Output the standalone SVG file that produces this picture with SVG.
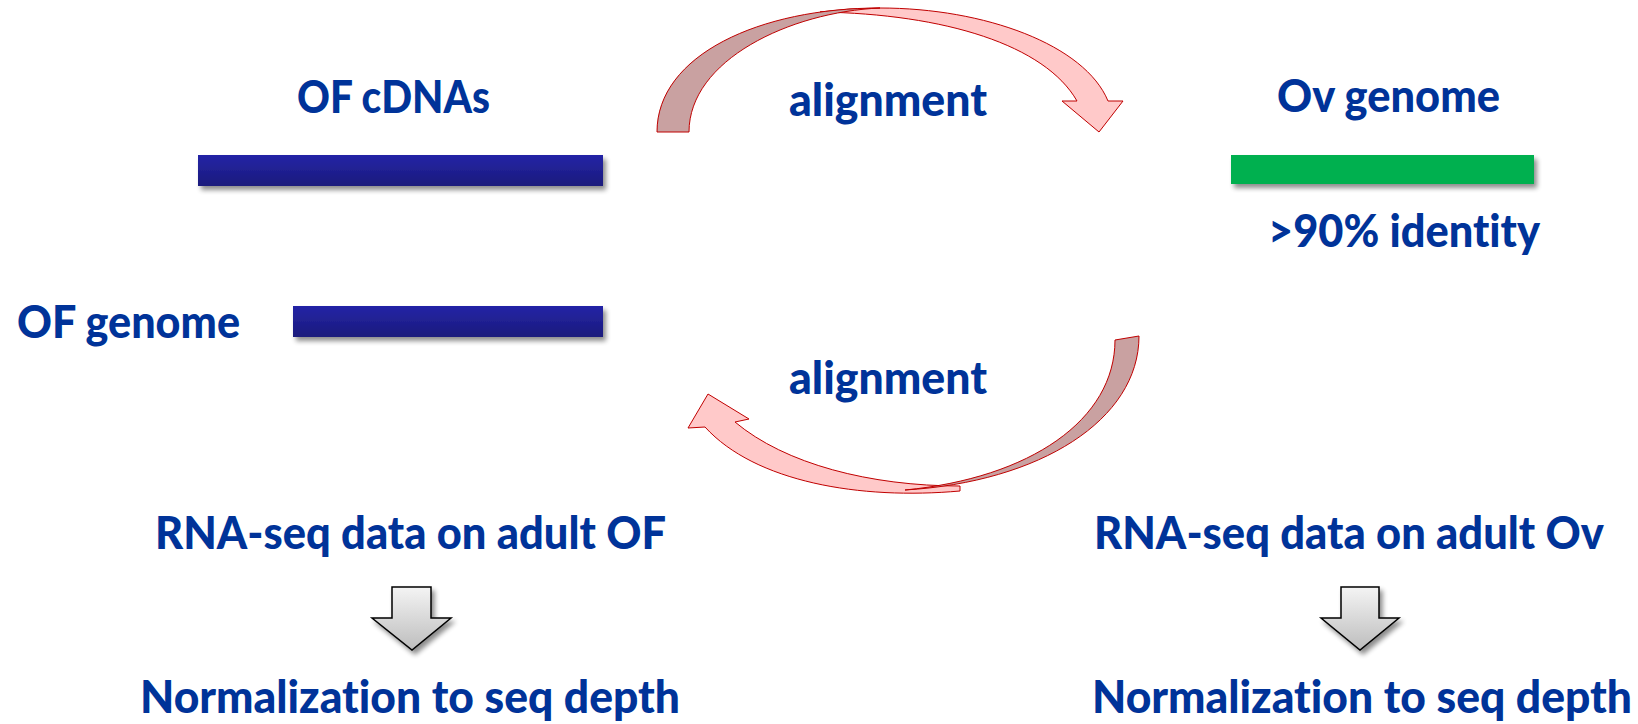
<svg xmlns="http://www.w3.org/2000/svg" width="1638" height="724" viewBox="0 0 1638 724">
<style>
.t{font-family:Lato,"Open Sans","Liberation Sans",sans-serif;font-weight:900;font-size:45px;fill:#003399;font-variant-ligatures:none}
.navy{fill:url(#navyG)}
.green{fill:#00b050}
.dark{fill:#c9a1a1;stroke:#c00000;stroke-width:1}
.light{fill:#ffc9c9;stroke:#c00000;stroke-width:1}
.down{fill:url(#grayG);stroke:#000;stroke-width:1.5;stroke-linejoin:miter}
</style>
<defs>
<linearGradient id="navyG" x1="0" y1="0" x2="0" y2="1">
<stop offset="0" stop-color="#2424a6"/>
<stop offset="1" stop-color="#1b1b7c"/>
</linearGradient>
<linearGradient id="grayG" x1="0" y1="0" x2="0" y2="1">
<stop offset="0" stop-color="#f4f4f4"/>
<stop offset="1" stop-color="#bdbdbd"/>
</linearGradient>
<filter id="sh" x="-10%" y="-50%" width="120%" height="250%">
<feGaussianBlur in="SourceAlpha" stdDeviation="2.5"/>
<feOffset dx="3" dy="4" result="b"/>
<feComponentTransfer><feFuncA type="linear" slope="0.45"/></feComponentTransfer>
<feMerge><feMergeNode/><feMergeNode in="SourceGraphic"/></feMerge>
</filter>
</defs>
<rect width="1638" height="724" fill="#fff"/>

<g id="of-cdnas">
<text class="t" x="297" y="113" textLength="193" lengthAdjust="spacingAndGlyphs">OF cDNAs</text>
<rect class="navy" x="198" y="155" width="405" height="31" filter="url(#sh)"/>
</g>
<g id="of-genome">
<text class="t" x="17" y="338" textLength="223" lengthAdjust="spacingAndGlyphs">OF genome</text>
<rect class="navy" x="293" y="306" width="310" height="31" filter="url(#sh)"/>
</g>
<g id="ov-genome">
<text class="t" x="1277" y="112" textLength="223" lengthAdjust="spacingAndGlyphs">Ov genome</text>
<rect class="green" x="1231" y="155" width="303" height="29" filter="url(#sh)"/>
<text class="t" x="1268" y="247" textLength="272" lengthAdjust="spacingAndGlyphs">&gt;90% identity</text>
</g>
<g id="rna-of">
<text class="t" x="155" y="549" textLength="511" lengthAdjust="spacingAndGlyphs">RNA-seq data on adult OF</text>
</g>
<g id="norm-of">
<text class="t" x="140" y="713" textLength="540" lengthAdjust="spacingAndGlyphs">Normalization to seq depth</text>
</g>
<g id="rna-ov">
<text class="t" x="1094" y="549" textLength="510" lengthAdjust="spacingAndGlyphs">RNA-seq data on adult Ov</text>
</g>
<g id="norm-ov">
<text class="t" x="1092" y="713" textLength="540" lengthAdjust="spacingAndGlyphs">Normalization to seq depth</text>
</g>

<g id="connectors">
<g id="align-top">
<path class="light" d="M820,12 Q850,8 880,8 C985,8 1085,45 1108,101 L1123,101 L1099,132 L1062,101 L1077,101 C1045,45 945,14 820,12 Z"/>
<path class="dark" d="M657,132 C657,55 760,8 880,8 C790,12 689,60 689,132 Z"/>
<text class="t" x="789" y="116" textLength="198" lengthAdjust="spacingAndGlyphs">alignment</text>
</g>
<g id="align-bottom">
<path class="light" d="M960,491 C860,500 755,482 705,427 L688,428 L708,394 L749,419 L735,422 C785,464 870,486 960,486 Z"/>
<path class="dark" d="M905,490 C1040,482 1139,420 1139,336 L1115,340 C1115,420 1030,478 905,490 Z"/>
<text class="t" x="789" y="394" textLength="198" lengthAdjust="spacingAndGlyphs">alignment</text>
</g>
<path id="down-of" class="down" filter="url(#sh)" d="M392,587 L431,587 L431,618 L451,618 L412,650 L372,618 L392,618 Z"/>
<path id="down-ov" class="down" filter="url(#sh)" d="M1341,587 L1379,587 L1379,618 L1399,618 L1360,650 L1321,618 L1341,618 Z"/>
</g>
</svg>
